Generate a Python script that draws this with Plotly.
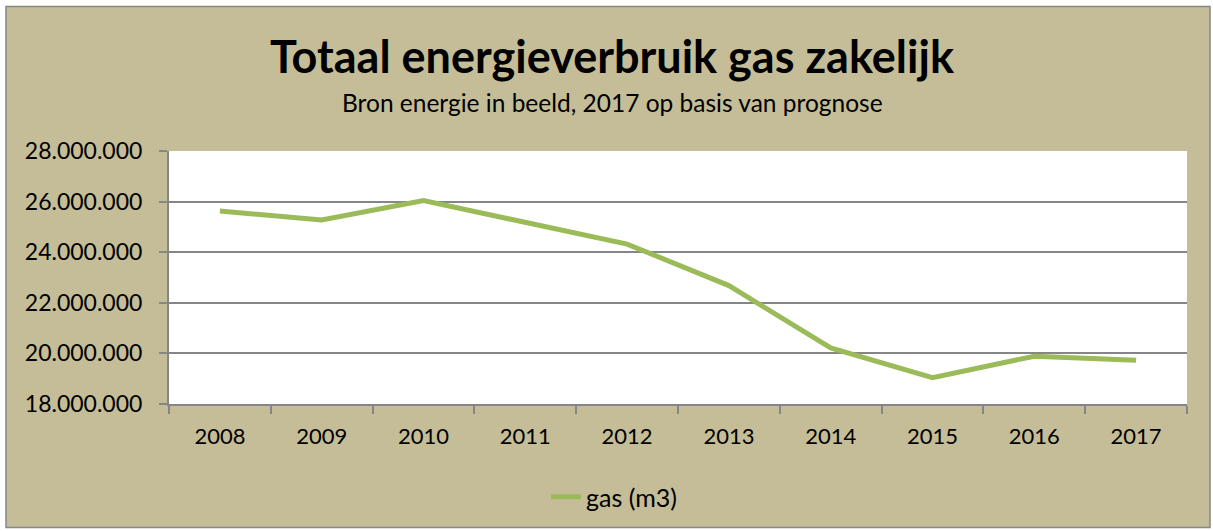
import plotly.graph_objects as go

years = ["2008", "2009", "2010", "2011", "2012", "2013", "2014", "2015", "2016", "2017"]
gas_m3 = [25630000, 25270000, 26040000, 25200000, 24320000, 22680000, 20220000, 19040000, 19890000, 19730000]
y_ticks = [18000000, 20000000, 22000000, 24000000, 26000000, 28000000]

title_text = "Totaal energieverbruik gas zakelijk"
subtitle_text = "Bron energie in beeld, 2017 op basis van prognose"
series_name = "gas (m3)"

W, H = 1213, 531
L, R, T, B = 169, 26, 151, 126
pw, ph = W - L - R, H - T - B


def px(x):
    return (x - L) / pw


def py(y):
    return (H - B - y) / ph


tan = "#C4BD97"
grey = "#868686"
font = "Lato"

fig = go.Figure()
fig.add_trace(go.Scatter(
    x=years, y=gas_m3, mode="lines", name=series_name,
    line=dict(color="#9BBB59", width=5),
))

fig.update_layout(
    width=W, height=H,
    margin=dict(l=L, r=R, t=T, b=B),
    paper_bgcolor="white",
    plot_bgcolor="white",
    separators=",.",
    font=dict(family=font, color="black"),
    showlegend=True,
    legend=dict(
        orientation="h", x=px(614), y=py(497), xanchor="center", yanchor="middle",
        bgcolor="rgba(0,0,0,0)", font=dict(size=25, family=font),
    ),
    shapes=[
        dict(type="rect", xref="paper", yref="paper", layer="below",
             x0=px(6), x1=px(1210), y0=py(529), y1=py(6),
             fillcolor=tan, line=dict(color=grey, width=1.5)),
        dict(type="rect", xref="paper", yref="paper", layer="below",
             x0=0, x1=1, y0=0, y1=1, fillcolor="white", line=dict(width=0)),
    ],
    annotations=[
        dict(text="<b>" + title_text + "</b>", xref="paper", yref="paper",
             x=px(612), y=py(56), xanchor="center", yanchor="middle", showarrow=False,
             font=dict(size=45, family=font, color="black")),
        dict(text=subtitle_text, xref="paper", yref="paper",
             x=px(612), y=py(102), xanchor="center", yanchor="middle", showarrow=False,
             font=dict(size=24.5, family=font, color="black")),
    ],
)

fig.update_xaxes(
    type="category", range=[-0.5, 9.5],
    showline=True, linecolor=grey, linewidth=2,
    ticks="outside", tickson="boundaries", ticklen=8, tickcolor=grey, tickwidth=2,
    showgrid=False, tickfont=dict(size=22, family=font, color="black"),
    ticklabelstandoff=12,
)
fig.update_yaxes(
    range=[18000000, 28000000], tickvals=y_ticks, tickformat=",d",
    showline=True, linecolor=grey, linewidth=2,
    ticks="outside", ticklen=8, tickcolor=grey, tickwidth=2,
    showgrid=True, gridcolor=grey, gridwidth=2, zeroline=False,
    tickfont=dict(size=23, family=font, color="black"),
    ticklabelstandoff=12,
)

fig.write_html(
    "out.html",
    config={"displayModeBar": False},
    post_script="document.body.style.margin='0';document.body.style.overflow='hidden';",
)
